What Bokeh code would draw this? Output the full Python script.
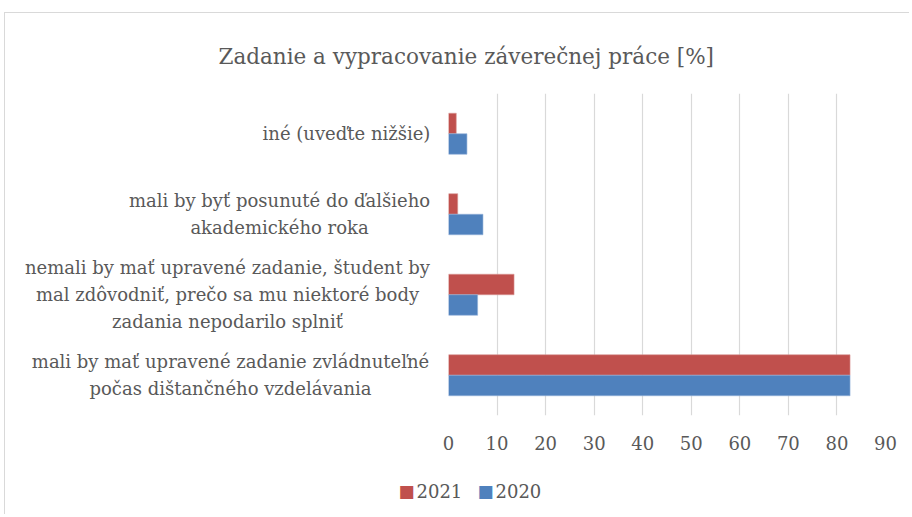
from bokeh.plotting import figure
from bokeh.models import ColumnDataSource, Range1d, FactorRange, FixedTicker, Title
from bokeh.core.properties import value
from bokeh.transform import dodge
from bokeh.embed import file_html
from bokeh.resources import INLINE

categories = [
    "mali by mať upravené zadanie zvládnuteľné\npočas dištančného vzdelávania",
    "nemali by mať upravené zadanie, študent by\nmal zdôvodniť, prečo sa mu niektoré body\nzadania nepodarilo splniť",
    "mali by byť posunuté do ďalšieho\nakademického roka",
    "iné (uveďte nižšie)",
]
values_2021 = [82.7, 13.5, 1.9, 1.6]
values_2020 = [82.7, 6.0, 7.1, 3.8]
series = ["2021", "2020"]
x_ticks = [0, 10, 20, 30, 40, 50, 60, 70, 80, 90]
title_text = "Zadanie a vypracovanie záverečnej práce [%]"

RED = "#C0504D"
BLUE = "#4F81BD"
TXT = "#595959"
FONT = "DejaVu Serif"

# layout (px): centre of each category label block, from the plot frame's left edge
label_dx = [-218, -221, -169, -102]
# legend swatch / label offsets (px) from the frame's left edge
swatch_dx = [-42, 37]
legend_text_dx = [-32, 47]
legend_dy = 116

src = ColumnDataSource(dict(cat=categories, v2021=values_2021, v2020=values_2020,
                            dx=label_dx))

p = figure(width=905, height=502, output_backend="svg", toolbar_location=None,
           x_range=Range1d(0, 90), y_range=FactorRange(*categories),
           min_border_left=443, min_border_right=25, min_border_top=80, min_border_bottom=100)
p.title = Title(text=title_text, align="left", offset=-230, standoff=50,
                text_font=FONT, text_font_size="21.5px", text_font_style="normal",
                text_color=TXT)
p.outline_line_color = None
p.styles = {"border-top": "1px solid #d9d9d9", "border-left": "1px solid #d9d9d9",
            "margin-left": "4px", "margin-top": "12px"}

bh = 0.255
p.hbar(y=dodge("cat", bh / 2, range=p.y_range), right="v2021", height=bh, left=0,
       source=src, fill_color=RED, line_color="#d99795", line_width=0.6)
p.hbar(y=dodge("cat", -bh / 2, range=p.y_range), right="v2020", height=bh, left=0,
       source=src, fill_color=BLUE, line_color="#93b1d8", line_width=0.6)

p.xaxis.ticker = FixedTicker(ticks=x_ticks)
p.xaxis.axis_line_color = None
p.xaxis.major_tick_line_color = None
p.xaxis.minor_tick_line_color = None
p.xaxis.major_label_text_font = FONT
p.xaxis.major_label_text_font_size = "18px"
p.xaxis.major_label_text_color = TXT
p.xaxis.major_label_standoff = 14

p.yaxis.visible = False

# category labels (multi-line, centred lines, right-aligned block)
p.text(x=0, y="cat", text="cat", x_offset="dx", source=src, level="overlay",
       text_align="center", text_baseline="middle", text_font=value(FONT),
       text_font_size="18px", text_color=TXT, text_line_height=1.28)

p.xgrid.ticker = FixedTicker(ticks=x_ticks)
p.xgrid.grid_line_color = "#d9d9d9"
p.xgrid.grid_line_width = 1.2
p.ygrid.grid_line_color = None

# legend below the axis
leg = ColumnDataSource(dict(name=series, color=[RED, BLUE], sq=["\u25A0", "\u25A0"],
                            sdx=swatch_dx, tdx=legend_text_dx,
                            cat=[categories[0]] * 2))
p.text(x=0, y="cat", text="sq", x_offset="sdx", y_offset=legend_dy, source=leg,
       level="overlay", text_align="center", text_baseline="middle",
       text_font=value("DejaVu Sans"), text_font_size="17px", text_color="color")
p.text(x=0, y="cat", text="name", x_offset="tdx", y_offset=legend_dy, source=leg,
       level="overlay", text_align="left", text_baseline="middle",
       text_font=value(FONT), text_font_size="18px", text_color=TXT)

open("out.html", "w").write(file_html(p, INLINE))
